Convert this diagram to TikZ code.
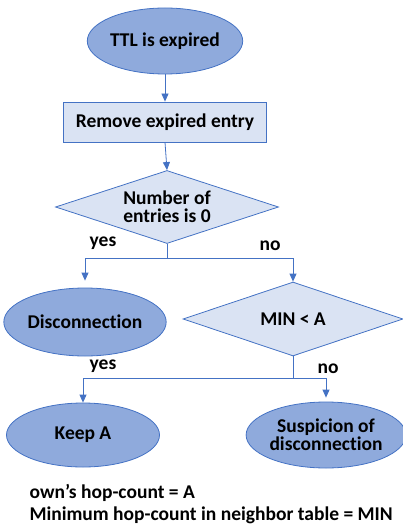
\documentclass[tikz,border=0pt]{standalone}
\usepackage{fontspec}
\setmainfont[Ligatures=CommonOff]{Carlito}
\usetikzlibrary{shapes.geometric,arrows.meta}
\definecolor{lineblue}{HTML}{4472C4}
\definecolor{darkfill}{HTML}{8FAADC}
\definecolor{lightfill}{HTML}{DAE3F3}
\tikzset{
  txt/.style={font=\bfseries\fontsize{19.5}{21}\selectfont},
  term/.style={txt,ellipse,draw=lineblue,fill=darkfill,thick,inner sep=0pt,
    minimum width=153pt,minimum height=64pt,align=center},
  proc/.style={txt,rectangle,draw=lineblue,fill=lightfill,thick,
    minimum width=203pt,minimum height=40pt},
  cond/.style={txt,diamond,aspect=3,draw=lineblue,fill=lightfill,thick,inner sep=0pt,
    align=center},
  wire/.style={draw=lineblue,thick},
  flow/.style={wire,-{Triangle[length=8pt,width=7pt]}}
}
\begin{document}
\begin{tikzpicture}[x=1pt,y=-1pt]
\useasboundingbox (0,0) rectangle (402,526);
% boxes
\node[term,minimum height=66pt] (ttl) at (165,41) {TTL is expired};
\node[proc] (rem) at (165,122) {Remove expired entry};
\node[cond,minimum width=223pt,minimum height=73pt] (num) at (167,207) {Number of\\[-3pt]entries is 0};
\node[term,minimum height=68pt] (disc) at (85,322) {Disconnection};
\node[cond,minimum width=220pt,minimum height=74pt] (mina) at (293,319) {MIN < A};
\node[term,minimum height=64pt] (keep) at (83,435) {Keep A};
\node[term,minimum height=66pt] (susp) at (326,435) {Suspicion of\\[-3pt]disconnection};
% arrows
\draw[flow] (ttl.south) -- (rem.north);
\draw[flow] (rem.south) -- (num.north);
\coordinate (j1) at (167,258);
\coordinate (j2) at (293,378);
\draw[wire] (num.south) -- (j1);
\draw[flow,shorten >=7pt] (j1) -| (disc.north);
\draw[flow] (j1) -| (mina.north);
\draw[wire] (mina.south) -- (j2);
\draw[flow] (j2) -| (keep.north);
\draw[flow,shorten >=4pt] (j2) -| (susp.north);
% labels
\node[txt] (y1) at (103,243) {yes};
\node[txt] (n1) at (270,246) {no};
\node[txt] (y2) at (103,366) {yes};
\node[txt] (n2) at (328,369) {no};
\node[txt,anchor=west] (own) at (26,493) {own’s hop-count = A};
\node[txt,anchor=west] (mini) at (26,515) {Minimum hop-count in neighbor table = MIN};
\end{tikzpicture}
\end{document}
